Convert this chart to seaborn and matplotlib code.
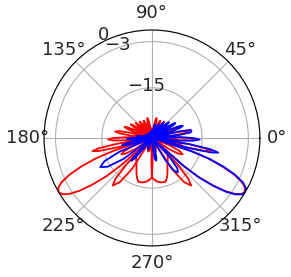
import numpy as np
import matplotlib
matplotlib.use("Agg")
import matplotlib.pyplot as plt
import seaborn as sns

# ---- data (angle in degrees, level in dB) ----
# red trace A (beam toward 330 deg)
red_a_deg = [-7.5, -5.3, -3.65, -2, -0.2, 1.6, 4,
             6.4, 8.2, 10, 11.8, 13.6, 16,
             18.4, 20.2, 22, 23.65, 25.3, 27.5,
             29.7, 31.35, 33, 34.5, 36, 38,
             40, 41.5, 43, 44.5, 46, 48,
             50, 51.5, 53, 54.65, 56.3, 58.5,
             60.7, 62.35, 64, 65.8, 67.6, 70,
             72.8, 74.9, 77, 79.1, 81.2, 84,
             87.2, 89.6, 92, 94.4, 96.8, 100,
             104.8, 108.4, 112, 115.6, 119.2, 124,
             128.8, 132.4, 136, 139.6, 143.2, 148,
             152, 155, 158, 161, 164, 168,
             169.8, 171.15, 172.5, 173.85, 175.2, 177,
             179, 180.5, 182, 183.65, 185.3, 187.5,
             190.1, 192.05, 194, 195.65, 197.3, 199.5,
             202.9, 205.45, 208, 210.7, 213.4, 217,
             221, 224, 232, 240, 244, 247.5, 250, 253, 258, 263, 267, 270, 271.5, 272.5,
             277, 281, 285, 289, 293, 298,
             302.6, 306.05, 309.5, 311.75, 314, 317,
             318.5, 320, 322, 324, 326, 328, 330, 332, 334, 336, 338, 340, 341.5, 343,
             344.8, 346.15, 347.5, 349, 350.5, 352.5]
red_a_db = [-28, -21.3, -17.9, -16.6, -17.9, -21.3, -28,
            -22.3, -19.4, -18.3, -19.4, -22.3, -28,
            -23.5, -21.1, -20.3, -21.1, -23.5, -28,
            -24.2, -22.2, -21.5, -22.2, -24.2, -28,
            -24.6, -22.9, -22.3, -22.9, -24.6, -28,
            -24.9, -23.3, -22.7, -23.3, -24.9, -28,
            -25.05, -23.55, -23, -23.55, -25.05, -28,
            -24.9, -23.3, -22.7, -23.3, -24.9, -28,
            -26.5, -25.8, -25.5, -25.8, -26.5, -28,
            -26.8, -26.2, -26, -26.2, -26.8, -28,
            -26.8, -26.2, -26, -26.2, -26.8, -28,
            -26.5, -25.8, -25.5, -25.8, -26.5, -28,
            -25.35, -24, -23.5, -24, -25.35, -28,
            -24.2, -22.2, -21.5, -22.2, -24.2, -28,
            -23.3, -20.9, -20, -20.9, -23.3, -28,
            -22.7, -20, -19, -20, -22.7, -28,
            -25, -22.5, -21.3, -20, -18.8, -17.6, -16.8, -16.1, -16.2, -16.6, -17.2, -17.8, -22, -28,
            -26, -24.8, -24.3, -24.8, -26, -28,
            -18.6, -13.8, -12, -13.8, -18.6, -28,
            -17.5, -12.5, -8.2, -4.6, -2, -0.5, -0.2, -0.7, -2.2, -4.8, -8.4, -12.7, -17.7, -28,
            -18.7, -13.9, -12.2, -13.9, -18.7, -28]

# red trace B (beam toward 210 deg)
red_b_deg = [-7.5, -5.3, -3.65, -2, -0.5, 1, 3,
             4.8, 6.15, 7.5, 8.85, 10.2, 12,
             16, 19, 22, 25, 28, 32,
             36.8, 40.4, 44, 47.6, 51.2, 56,
             60.8, 64.4, 68, 71.6, 75.2, 80,
             83.2, 85.6, 88, 90.4, 92.8, 96,
             98.8, 100.9, 103, 105.1, 107.2, 110,
             112.4, 114.2, 116, 117.65, 119.3, 121.5,
             123.7, 125.35, 127, 128.5, 130, 132,
             134, 135.5, 137, 138.5, 140, 142,
             144, 145.5, 147, 148.65, 150.3, 152.5,
             154.7, 156.35, 158, 159.8, 161.6, 164,
             166.4, 168.2, 170, 171.8, 173.6, 176,
             178.4, 180.2, 182, 183.65, 185.3, 187.5,
             189.5, 191, 192.5, 193.85, 195.2, 197,
             198.5, 200, 202, 204, 206, 208, 210, 212, 214, 216, 218, 220, 221.5, 223,
             226, 228.25, 230.5, 233.95, 237.4, 242,
             247, 251, 255, 259, 263, 267.5,
             268.5, 270, 273, 277, 282, 287, 290, 292.5, 296, 300, 308, 316, 319, 323,
             326.6, 329.3, 332, 334.55, 337.1, 340.5,
             342.7, 344.35, 346, 347.95, 349.9, 352.5]
red_b_db = [-28, -24.2, -22.2, -21.5, -22.2, -24.2, -28,
            -25.35, -24, -23.5, -24, -25.35, -28,
            -26.5, -25.8, -25.5, -25.8, -26.5, -28,
            -26.8, -26.2, -26, -26.2, -26.8, -28,
            -26.8, -26.2, -26, -26.2, -26.8, -28,
            -26.5, -25.8, -25.5, -25.8, -26.5, -28,
            -24.9, -23.3, -22.7, -23.3, -24.9, -28,
            -25.05, -23.55, -23, -23.55, -25.05, -28,
            -24.9, -23.3, -22.7, -23.3, -24.9, -28,
            -24.6, -22.9, -22.3, -22.9, -24.6, -28,
            -24.2, -22.2, -21.5, -22.2, -24.2, -28,
            -23.5, -21.1, -20.3, -21.1, -23.5, -28,
            -22.3, -19.4, -18.3, -19.4, -22.3, -28,
            -21.3, -17.9, -16.6, -17.9, -21.3, -28,
            -18.7, -13.9, -12.2, -13.9, -18.7, -28,
            -17.5, -12.5, -8.2, -4.6, -2, -0.5, 0, -0.5, -2, -4.6, -8.2, -12.5, -17.5, -28,
            -18.6, -13.8, -12, -13.8, -18.6, -28,
            -26, -24.8, -24.3, -24.8, -26, -28,
            -22, -17.8, -17.2, -16.6, -16.2, -16.1, -16.8, -17.6, -18.8, -20, -21.3, -22.5, -25, -28,
            -22.7, -20, -19, -20, -22.7, -28,
            -23.3, -20.9, -20, -20.9, -23.3, -28]

# blue trace (beam toward 330 deg)
blue_deg = [-7.5, -5.3, -3.65, -2, -0.2, 1.6, 4,
            6.4, 8.2, 10, 11.8, 13.6, 16,
            18.2, 19.8, 21.5, 23.3, 25.1, 27.5,
            29.5, 31, 32.5, 34.1, 35.7, 38,
            40, 41.5, 43, 44.5, 46, 48,
            50, 51.5, 53, 54.65, 56.3, 58.5,
            60.7, 62.35, 64, 65.8, 67.6, 70,
            72.8, 74.9, 77, 79.1, 81.2, 84,
            89, 94, 100, 112, 124, 136, 148, 158, 168,
            169.8, 171.15, 172.5, 173.85, 175.2, 177,
            179, 180.5, 182, 183.65, 185.3, 187.5,
            190, 192, 194, 195.5, 197, 198.5,
            203, 206, 209.5, 213, 216.5, 221.5,
            224.5, 226.3, 228, 230, 232, 236,
            241, 246, 250, 254, 258, 265, 272,
            275, 277.5, 280, 282.5, 285, 288,
            292, 297,
            301, 304, 307, 310, 313, 317,
            318.5, 320, 322, 324, 326, 328, 330, 332, 334, 336, 338, 340, 341.5, 343,
            344.8, 346.15, 347.5, 349, 350.5, 352.5]
blue_db = [-28, -20.7, -17.1, -15.6, -17.1, -20.7, -28,
           -20.7, -17.8, -17.6, -17.8, -20.7, -28,
           -23, -20.2, -19.4, -20.2, -23, -28,
           -23.9, -21.5, -20.8, -21.5, -23.9, -28,
           -24.6, -22.6, -22, -22.6, -24.6, -28,
           -25.1, -23.6, -23, -23.6, -25.1, -28,
           -25.6, -24.4, -24, -24.4, -25.6, -28,
           -26, -24.9, -24.5, -24.9, -26, -28,
           -26.5, -26, -28, -26.5, -28, -26.5, -28, -26, -28,
           -25.6, -24.5, -24, -24.5, -25.6, -28,
           -24.2, -22.2, -21.5, -22.2, -24.2, -28,
           -23.3, -20.9, -20, -20.9, -23.3, -28,
           -18.9, -14.3, -12.6, -14.3, -18.9, -28,
           -24.5, -21.2, -20, -21.2, -24.5, -28,
           -27, -25.5, -24.8, -25.5, -27, -28, -28,
           -25, -22.6, -22, -22.6, -25, -28,
           -26, -28,
           -21.5, -17.8, -16.8, -17.8, -21.5, -28,
           -17, -12, -7.8, -4.3, -1.8, -0.4, 0, -0.4, -1.8, -4.3, -7.8, -12, -17, -28,
           -18, -12.3, -10.4, -12.3, -18, -28]

r_ticks = [0, -3, -15]
r_min = -28

sns.set_style("white")
plt.rcParams["font.family"] = ["DejaVu Sans"]

fig = plt.figure(figsize=(2.91, 2.77), dpi=100)
ax = fig.add_axes([0.1512, 0.112, 0.742, 0.78], projection="polar")

sns.lineplot(x=np.deg2rad(red_a_deg), y=red_a_db, ax=ax, sort=False,
             estimator=None, color="red", linewidth=1.3)
sns.lineplot(x=np.deg2rad(red_b_deg), y=red_b_db, ax=ax, sort=False,
             estimator=None, color="red", linewidth=1.3)
sns.lineplot(x=np.deg2rad(blue_deg), y=blue_db, ax=ax, sort=False,
             estimator=None, color="blue", linewidth=1.3)

ax.set_ylim(r_min, 0)
ax.set_rticks(r_ticks)
ax.set_rlabel_position(120)
ax.set_xlabel("")
ax.set_ylabel("")
ax.grid(True, color="#b0b0b0", linewidth=0.8)
ax.tick_params(labelsize=13)
ax.tick_params(axis="x", pad=1.5)
for s in ax.spines.values():
    s.set_color("black")
    s.set_linewidth(0.8)

fig.savefig("out.png", dpi=100)
